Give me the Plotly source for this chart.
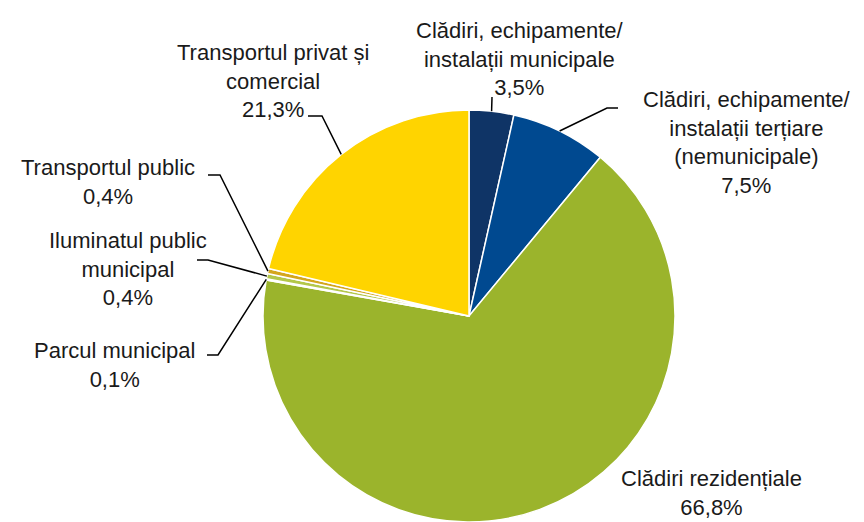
import math
import plotly.graph_objects as go

labels = [
    "Clădiri, echipamente/<br>instalații municipale",
    "Clădiri, echipamente/<br>instalații terțiare<br>(nemunicipale)",
    "Clădiri rezidențiale",
    "Parcul municipal",
    "Iluminatul public<br>municipal",
    "Transportul public",
    "Transportul privat și<br>comercial",
]
values = [3.5, 7.5, 66.8, 0.1, 0.4, 0.4, 21.3]
value_text = ["3,5%", "7,5%", "66,8%", "0,1%", "0,4%", "0,4%", "21,3%"]
colors = ["#0F3466", "#004990", "#9BB42C", "#EDEDED", "#B3C74A", "#D4A61C", "#FFD400"]

W, H = 864, 522
CX, R = 469, 206
CY = H - R  # pie sits at bottom of its domain

# label layout (pixel coords): text center x, text center y, elbow points (None = no leader)
label_pos = [
    (520, 59, [(492, 97)]),
    (747, 142, [(607, 108), (618, 108)]),
    (711, 493, None),
    (114, 365, [(218, 355), (207, 355)]),
    (128, 269, [(208, 260), (197, 260)]),
    (108, 182, [(220, 175), (208, 175)]),
    (273, 81, [(322, 116), (308, 116)]),
]

def px(x):
    return x / W

def py(y):
    return 1 - y / H

fig = go.Figure(go.Pie(
    labels=[l.replace("<br>", " ") for l in labels],
    values=values,
    sort=False,
    direction="clockwise",
    rotation=0,
    marker=dict(colors=colors, line=dict(color="white", width=1.5)),
    textinfo="none",
    hoverinfo="label+percent",
    domain=dict(x=[px(CX - R), px(CX + R)], y=[0, 2 * R / H]),
    showlegend=False,
))

total = sum(values)
cum = 0
shapes = []
annotations = []
for lab, v, vt, (tx, ty, elbow) in zip(labels, values, value_text, label_pos):
    mid = (cum + v / 2) / total * 2 * math.pi
    cum += v
    ex = CX + R * math.sin(mid)
    ey = CY - R * math.cos(mid)
    annotations.append(dict(
        x=px(tx), y=py(ty), xref="paper", yref="paper",
        text=f"{lab}<br>{vt}", showarrow=False,
        font=dict(family="Liberation Sans, Arial, sans-serif", size=22, color="#1a1a1a"),
        align="center", xanchor="center", yanchor="middle",
    ))
    if elbow:
        pts = [(ex, ey)] + elbow
        path = "M " + " L ".join(f"{px(a)},{py(b)}" for a, b in pts)
        shapes.append(dict(type="path", xref="paper", yref="paper", path=path,
                           line=dict(color="black", width=1.5)))

fig.update_layout(
    width=W, height=H,
    margin=dict(l=0, r=0, t=0, b=0),
    paper_bgcolor="white", plot_bgcolor="white",
    annotations=annotations, shapes=shapes,
)
fig.write_html(
    "out.html",
    config={"displayModeBar": False},
    post_script="document.body.style.margin='0';document.body.style.overflow='hidden';",
)
